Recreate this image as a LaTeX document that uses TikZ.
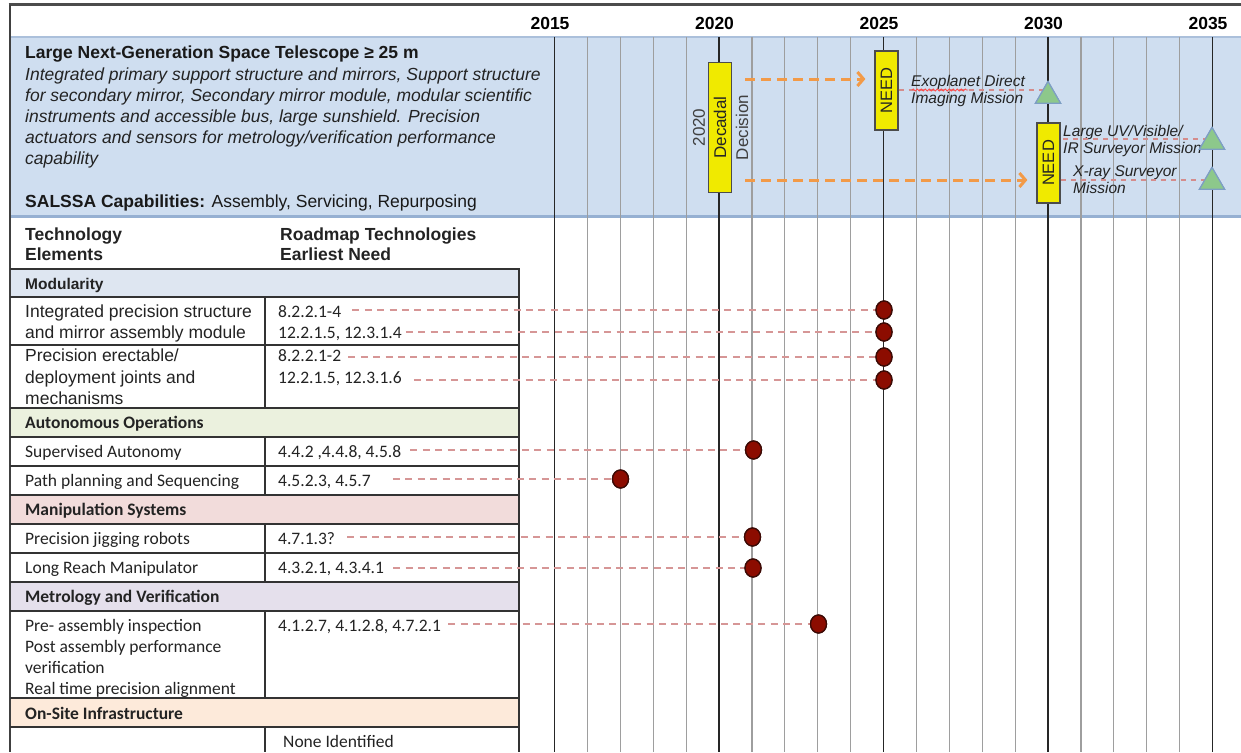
\documentclass[tikz,border=0pt]{standalone}
\usepackage{fontspec}
\setmainfont{Liberation Sans}
\newfontfamily\calfont{Carlito}
\usetikzlibrary{shapes.geometric,arrows.meta,decorations.pathmorphing}
\definecolor{bandblue}{RGB}{207,222,240}
\definecolor{bandedge}{RGB}{150,176,210}
\definecolor{modfill}{RGB}{222,230,241}
\definecolor{autofill}{RGB}{235,241,222}
\definecolor{manfill}{RGB}{242,220,219}
\definecolor{metfill}{RGB}{229,224,236}
\definecolor{sitefill}{RGB}{253,234,218}
\definecolor{dotred}{RGB}{140,12,0}
\definecolor{dotedge}{RGB}{60,10,5}
\definecolor{dashred}{RGB}{214,150,150}
\definecolor{bandred}{RGB}{212,140,140}
\definecolor{arroworange}{RGB}{242,154,72}
\definecolor{needyellow}{RGB}{240,234,0}
\definecolor{trigreen}{RGB}{141,200,139}
\definecolor{triedge}{RGB}{125,158,196}
\definecolor{txtgray}{RGB}{35,35,35}
\begin{document}
\begin{tikzpicture}[x=1pt,y=-1pt,
  ar/.style={anchor=base west, inner sep=0pt, text=txtgray, font=\fontsize{17.5}{21}\selectfont},
  arb/.style={ar, font=\fontsize{17.5}{21}\selectfont\bfseries},
  ari/.style={ar, font=\fontsize{17.5}{21}\selectfont\itshape},
  cal/.style={anchor=base west, inner sep=0pt, text=txtgray, font=\calfont\fontsize{17.5}{21}\selectfont},
  calb/.style={cal, font=\calfont\fontsize{17.5}{21}\selectfont\bfseries},
  bandtxt/.style={anchor=base west, inner sep=0pt, text=txtgray, font=\fontsize{15.5}{18}\selectfont\itshape},
  yearlbl/.style={anchor=base, inner sep=0pt, font=\fontsize{17.5}{21}\selectfont\bfseries},
  majorline/.style={draw=black!85, line width=1.6pt},
  minorline/.style={draw=black!38, line width=1.2pt},
  rule/.style={draw=black!80, line width=2pt},
  reddash/.style={draw=dashred, line width=2pt, dash pattern=on 7pt off 5.4pt},
  banddash/.style={draw=bandred, line width=1.3pt, dash pattern=on 5pt off 5pt},
  orangearrow/.style={draw=arroworange, line width=3pt, dash pattern=on 10pt off 6pt,
    -{Straight Barb[length=6pt,width=14pt,line width=3pt]}},
  reddot/.style={ellipse, fill=dotred, draw=dotedge, line width=1.3pt, minimum width=16pt, minimum height=18pt, inner sep=0pt},
  tri/.style={regular polygon, regular polygon sides=3, minimum size=29pt, inner sep=0pt, fill=trigreen, draw=triedge, line width=1.2pt},
  ybox/.style={rotate=90, fill=needyellow, draw=black!70, line width=1.2pt, inner sep=0pt, minimum height=23pt, text=black!85},
  sidetxt/.style={rotate=90, inner sep=0pt, text=black!75, font=\fontsize{17}{20}\selectfont}
]
\useasboundingbox (0,0) rectangle (1241,752);
\fill[white] (0,0) rectangle (1241,752);

% blue band
\fill[bandblue] (11,37) rectangle (1241,216);
\draw[draw=bandedge!80, line width=2pt] (11,37) -- (1241,37);
\draw[draw=bandedge, line width=3pt] (11,216) -- (1241,216);

% section fills
\fill[modfill] (10,269) rectangle (519,297);
\fill[autofill] (10,408) rectangle (519,437);
\fill[manfill] (10,495) rectangle (519,524);
\fill[metfill] (10,582) rectangle (519,611);
\fill[sitefill] (10,698) rectangle (519,727);

% year lines
\foreach \i in {0,...,20}{
  \pgfmathtruncatemacro\m{mod(\i,5)}
  \ifnum\m=0
    \draw[majorline] (554.5+32.9*\i,37) -- (554.5+32.9*\i,752);
  \else
    \draw[minorline] (554.5+32.9*\i,37) -- (554.5+32.9*\i,752);
  \fi
}
\node[yearlbl] (y15) at (550,30) {2015};
\node[yearlbl] (y20) at (714.5,30) {2020};
\node[yearlbl] (y25) at (879,30) {2025};
\node[yearlbl] (y30) at (1043.5,30) {2030};
\node[yearlbl] (y35) at (1208,30) {2035};

% frame
\draw[draw=black!70, line width=3pt] (8.5,5) -- (1241,5);
\draw[draw=black!75, line width=2.5pt] (10,5) -- (10,752);

% table rules
\foreach \yy in {269,297,345,408,437,466,495,524,553,582,611,698,727}
  \draw[rule] (10,\yy) -- (519,\yy);
\draw[rule] (519,268) -- (519,752);
\draw[rule] (265,297) -- (265,408);
\draw[rule] (265,437) -- (265,495);
\draw[rule] (265,524) -- (265,582);
\draw[rule] (265,611) -- (265,698);
\draw[rule] (265,727) -- (265,752);

% band text
\node[arb, text=black!90] (h0) at (25,59) {Large Next-Generation Space Telescope ≥ 25 m};
\node[ari] (h1) at (25,80) {Integrated primary support structure and mirrors, Support structure};
\node[ari] (h2) at (25,101) {for secondary mirror, Secondary mirror module, modular scientific};
\node[ari] (h3) at (25,122) {instruments and accessible bus, large sunshield. Precision};
\node[ari] (h4) at (25,143) {actuators and sensors for metrology/verification performance};
\node[ari] (h5) at (25,164) {capability};
\node[ar, text=black!90] (h6) at (25,207) {\textbf{SALSSA Capabilities:} Assembly, Servicing, Repurposing};

% table header
\node[arb] (t1) at (25,240) {Technology};
\node[arb] (t2) at (25,260) {Elements};
\node[arb] (t3) at (280,240) {Roadmap Technologies};
\node[arb] (t4) at (280,260) {Earliest Need};

% sections and rows
\node[arb, font=\fontsize{15.5}{18}\selectfont\bfseries] (s1) at (25,289) {Modularity};
\node[ar] (r1a) at (25,317) {Integrated precision structure};
\node[ar] (r1b) at (25,338) {and mirror assembly module};
\node[cal] (c1) at (278,317) {8.2.2.1-4};
\node[cal] (c2) at (278,338) {12.2.1.5, 12.3.1.4};
\node[ar] (r2a) at (25,361) {Precision erectable/};
\node[ar] (r2b) at (25,383) {deployment joints and};
\node[ar] (r2c) at (25,404) {mechanisms};
\node[cal] (c3) at (278,361) {8.2.2.1-2};
\node[cal] (c4) at (278,383) {12.2.1.5, 12.3.1.6};

\node[calb] (s2) at (25,428) {Autonomous Operations};
\node[cal] (r3) at (25,457) {Supervised Autonomy};
\node[cal] (c5) at (278,457) {4.4.2 ,4.4.8, 4.5.8};
\node[cal] (r4) at (25,486) {Path planning and Sequencing};
\node[cal] (c6) at (278,486) {4.5.2.3, 4.5.7};

\node[calb] (s3) at (25,515) {Manipulation Systems};
\node[cal] (r5) at (25,544) {Precision jigging robots};
\node[cal] (c7) at (278,544) {4.7.1.3?};
\node[cal] (r6) at (25,573) {Long Reach Manipulator};
\node[cal] (c8) at (278,573) {4.3.2.1, 4.3.4.1};

\node[calb] (s4) at (25,602) {Metrology and Verification};
\node[cal] (r7a) at (25,631) {Pre- assembly inspection};
\node[cal] (r7b) at (25,652) {Post assembly performance};
\node[cal] (r7c) at (25,673) {verification};
\node[cal] (r7d) at (25,694) {Real time precision alignment};
\node[cal] (c9) at (278,631) {4.1.2.7, 4.1.2.8, 4.7.2.1};

\node[calb] (s5) at (25,719) {On-Site Infrastructure};
\node[cal] (c10) at (283,747) {None Identified};

% dots
\node[reddot] (d1) at (884,310) {};
\node[reddot] (d2) at (884,332) {};
\node[reddot] (d3) at (884,357) {};
\node[reddot] (d4) at (884,380) {};
\node[reddot] (d5) at (753.5,450) {};
\node[reddot] (d6) at (620.5,479) {};
\node[reddot] (d7) at (752.5,537) {};
\node[reddot] (d8) at (753,568) {};
\node[reddot] (d9) at (818.5,624) {};

% dashed connectors
\draw[reddash] (c1.east |- d1) ++(11,0) -- (d1);
\draw[reddash] (c2.east |- d2) ++(4,0) -- (d2);
\draw[reddash] (c3.east |- d3) ++(7,0) -- (d3);
\draw[reddash] (c4.east |- d4) ++(12,0) -- (d4);
\draw[reddash] (c5.east |- d5) ++(9,0) -- (d5);
\draw[reddash] (c6.east |- d6) ++(22,0) -- (d6);
\draw[reddash] (c7.east |- d7) ++(12,0) -- (d7);
\draw[reddash] (c8.east |- d8) ++(9,0) -- (d8);
\draw[reddash] (c9.east |- d9) ++(7,0) -- (d9);
\foreach \d in {d1,d2,d3,d4,d5,d6,d7,d8,d9}
  \node[reddot] at (\d) {};

% decision and need boxes
\node[ybox, minimum width=130pt, font=\fontsize{17}{20}\selectfont] (dec) at (720,127.5) {Decadal};
\node[sidetxt] (dyr) at (699,127.5) {2020};
\node[sidetxt] (dword) at (742,127.5) {Decision};
\node[ybox, minimum width=79pt, font=\fontsize{16.5}{20}\selectfont] (need1) at (886.5,90.5) {NEED};
\node[ybox, minimum width=80pt, font=\fontsize{16.5}{20}\selectfont] (need2) at (1048.5,163) {NEED};

% mission texts
\node[bandtxt] (m1a) at (911,86) {Exoplanet Direct};
\node[bandtxt] (m1b) at (911,103) {Imaging Mission};
\node[bandtxt] (m2a) at (1063,136) {Large UV/Visible/};
\node[bandtxt] (m2b) at (1063,153) {IR Surveyor Mission};
\node[bandtxt] (m3a) at (1073,176) {X-ray Surveyor};
\node[bandtxt] (m3b) at (1073,193) {Mission};

% triangles
\coordinate (ya) at (0,79);
\coordinate (yb) at (0,90);
\coordinate (yc) at (0,139);
\coordinate (yd) at (0,180);
\node[tri] (tr1) at (1048,96) {};
\node[tri] (tr2) at (1212,142) {};
\node[tri] (tr3) at (1212,182) {};

\draw[banddash] (need1.south |- yb) -- (tr1.center |- yb);
\draw[banddash] (m2a.west |- yc) -- (tr2.center |- yc);
\draw[banddash] (need2.south |- yd) -- (tr3.center |- yd);
\draw[draw=red!70, line width=0.8pt, decorate, decoration={snake, amplitude=1pt, segment length=4pt}] (m1a.base west) ++(1,4) -- ++(56,0);
\node[tri] at (tr1) {};
\node[tri] at (tr2) {};
\node[tri] at (tr3) {};

% orange arrows
\draw[orangearrow] ([xshift=13pt]dec.south |- ya) -- ([xshift=-9pt]need1.north |- ya);
\draw[orangearrow] ([xshift=13pt]dec.south |- yd) -- ([xshift=-9pt]need2.north |- yd);
\end{tikzpicture}
\end{document}
